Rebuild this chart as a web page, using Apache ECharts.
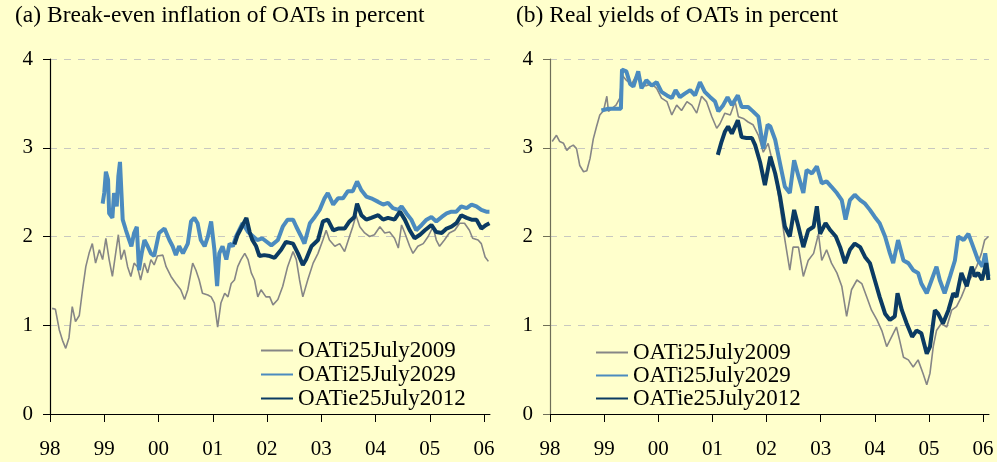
<!DOCTYPE html>
<html>
<head>
<meta charset="utf-8">
<script src="https://cdn.jsdelivr.net/npm/echarts@6/dist/echarts.min.js"></script>
<style>
  html, body { margin: 0; background: #ffffcc; }
  #chart { width: 997px; height: 462px; }
</style>
</head>
<body>
<div id="chart"></div>
<script>
// x positions are decimal years, values in percent
const yearTicks = [1998, 1999, 2000, 2001, 2002, 2003, 2004, 2005, 2006]

// (a) break-even inflation
const beiX09 = [1998.04,1998.10,1998.17,1998.23,1998.29,1998.35,1998.41,1998.47,1998.54,1998.60,1998.66,1998.72,1998.78,1998.84,1998.91,1998.97,
  1999.03,1999.09,1999.15,1999.21,1999.26,1999.31,1999.37,1999.43,1999.49,1999.55,1999.61,1999.67,1999.74,1999.80,1999.86,1999.92,1999.98,
  2000.08,2000.14,2000.23,2000.32,2000.41,2000.48,2000.54,2000.63,2000.69,2000.75,2000.81,2000.91,2000.97,
  2001.03,2001.09,2001.15,2001.22,2001.28,2001.34,2001.40,2001.46,2001.52,2001.59,2001.65,2001.71,2001.77,2001.83,2001.89,2001.98,
  2002.05,2002.11,2002.20,2002.29,2002.38,2002.48,2002.54,2002.60,2002.66,2002.75,2002.85,2002.94,
  2003.03,2003.09,2003.15,2003.25,2003.34,2003.43,2003.52,2003.58,2003.64,2003.71,2003.80,2003.89,2003.98,
  2004.08,2004.17,2004.26,2004.35,2004.42,2004.48,2004.54,2004.63,2004.69,2004.78,2004.88,2004.97,
  2005.06,2005.12,2005.18,2005.27,2005.36,2005.46,2005.55,2005.64,2005.73,2005.79,2005.89,2005.95,
  2006.02,2006.08]
const bei09 = [1.19,1.18,0.95,0.83,0.74,0.86,1.21,1.04,1.11,1.40,1.66,1.81,1.92,1.70,1.85,1.74,
  1.98,1.74,1.55,1.81,2.02,1.74,1.85,1.66,1.55,1.70,1.66,1.51,1.70,1.59,1.74,1.68,1.78,
  1.79,1.66,1.55,1.47,1.40,1.29,1.40,1.70,1.62,1.51,1.36,1.34,1.32,
  1.25,0.98,1.25,1.36,1.32,1.47,1.51,1.66,1.74,1.81,1.74,1.59,1.51,1.32,1.40,1.32,
  1.32,1.23,1.29,1.44,1.66,1.83,1.74,1.51,1.32,1.51,1.70,1.81,
  1.96,2.07,1.96,1.89,1.92,1.83,2.00,2.11,2.24,2.11,2.04,2.00,2.02,
  2.11,2.04,2.05,1.98,1.87,2.13,2.04,1.89,1.81,1.89,1.92,2.00,
  2.11,1.96,1.89,1.96,2.04,2.07,2.15,2.15,2.07,1.98,1.96,1.92,
  1.77,1.72]

const beiX29 = [1998.97,
  1999.00,1999.03,1999.07,1999.09,1999.15,1999.18,1999.23,1999.26,1999.29,1999.34,1999.40,1999.46,1999.50,1999.55,1999.60,1999.64,1999.69,1999.74,1999.80,1999.86,1999.92,
  2000.01,2000.11,2000.20,2000.26,2000.32,2000.38,2000.45,2000.54,2000.60,2000.66,2000.72,2000.78,2000.85,2000.91,2000.97,
  2001.03,2001.08,2001.12,2001.18,2001.25,2001.31,2001.37,2001.43,2001.55,2001.65,2001.82,2001.91,
  2002.08,2002.20,2002.29,2002.38,2002.48,2002.54,2002.63,2002.69,2002.79,2002.88,2002.97,
  2003.06,2003.12,2003.22,2003.31,2003.40,2003.49,2003.58,2003.66,2003.74,2003.83,2003.92,
  2004.05,2004.14,2004.23,2004.32,2004.42,2004.48,2004.57,2004.66,2004.75,2004.85,2004.94,
  2005.03,2005.12,2005.22,2005.31,2005.40,2005.49,2005.58,2005.68,2005.77,2005.86,2005.95,
  2006.04,2006.10]
const bei29 = [2.37,
  2.49,2.73,2.64,2.26,2.21,2.49,2.34,2.68,2.84,2.19,2.07,1.96,1.89,2.04,2.11,1.62,1.81,1.96,1.89,1.81,1.78,
  2.04,2.09,1.96,1.89,1.79,1.89,1.81,1.92,2.17,2.21,2.15,1.96,1.89,2.00,2.17,
  1.85,1.44,1.81,1.89,1.74,1.92,1.89,2.00,2.15,2.05,1.96,1.98,
  1.90,1.96,2.11,2.19,2.19,2.11,2.00,1.92,2.15,2.22,2.30,
  2.43,2.49,2.36,2.43,2.43,2.51,2.51,2.62,2.52,2.45,2.43,
  2.39,2.36,2.38,2.32,2.30,2.34,2.26,2.19,2.07,2.13,2.19,
  2.22,2.17,2.22,2.26,2.28,2.28,2.34,2.32,2.36,2.34,2.30,
  2.28,2.28]

const beiXe12 = [2001.40,2001.46,2001.52,2001.57,2001.62,2001.68,2001.73,2001.80,2001.86,2001.95,
  2002.05,2002.14,2002.26,2002.35,2002.48,2002.57,2002.66,2002.72,2002.82,2002.94,
  2003.03,2003.12,2003.22,2003.31,2003.43,2003.52,2003.61,2003.66,2003.74,2003.83,2003.92,
  2004.05,2004.14,2004.23,2004.35,2004.45,2004.54,2004.63,2004.72,2004.82,2004.91,
  2005.03,2005.12,2005.22,2005.31,2005.40,2005.49,2005.58,2005.68,2005.77,2005.86,2005.95,
  2006.04,2006.10]
const beie12 = [1.91,2.02,2.09,2.15,2.21,2.05,1.96,1.89,1.78,1.79,
  1.78,1.76,1.85,1.94,1.92,1.81,1.68,1.74,1.89,1.96,
  2.17,2.19,2.07,2.09,2.09,2.17,2.22,2.37,2.24,2.19,2.21,
  2.24,2.19,2.21,2.19,2.28,2.19,2.07,1.98,2.02,2.07,
  2.13,2.05,2.04,2.09,2.11,2.15,2.24,2.21,2.19,2.19,2.09,
  2.13,2.15]

// (b) real yields
const ryX09 = [1998.04,1998.12,1998.18,1998.25,1998.31,1998.37,1998.43,1998.49,1998.55,1998.62,1998.68,1998.74,1998.80,1998.86,1998.92,1998.99,
  1999.05,1999.08,1999.14,1999.22,1999.29,1999.33,1999.41,1999.51,1999.60,1999.69,1999.78,1999.88,1999.97,
  2000.06,2000.16,2000.25,2000.34,2000.43,2000.53,2000.62,2000.71,2000.80,2000.89,2000.99,
  2001.08,2001.14,2001.23,2001.33,2001.42,2001.48,2001.57,2001.66,2001.75,2001.85,2001.94,
  2002.03,2002.16,2002.25,2002.34,2002.43,2002.49,2002.59,2002.68,2002.77,2002.87,2002.96,
  2003.02,2003.11,2003.20,2003.30,2003.39,2003.48,2003.57,2003.67,2003.76,2003.85,2003.94,
  2004.04,2004.13,2004.22,2004.31,2004.40,2004.46,2004.53,2004.62,2004.71,2004.80,2004.89,2004.96,
  2005.02,2005.08,2005.14,2005.23,2005.33,2005.42,2005.51,2005.60,2005.70,2005.79,2005.88,2005.97,
  2006.03,2006.10]
const ry09 = [3.07,3.14,3.07,3.05,2.97,3.01,3.03,2.99,2.80,2.73,2.74,2.88,3.10,3.24,3.37,3.42,
  3.58,3.41,3.44,3.48,3.56,3.82,3.76,3.72,3.82,3.70,3.70,3.72,3.67,
  3.56,3.52,3.37,3.48,3.42,3.52,3.48,3.39,3.58,3.52,3.35,
  3.22,3.27,3.39,3.37,3.52,3.35,3.33,3.29,3.26,3.14,2.95,
  3.05,2.71,2.34,1.96,1.62,1.88,1.88,1.55,1.73,1.81,2.03,
  1.73,1.85,1.70,1.59,1.44,1.10,1.40,1.51,1.47,1.32,1.17,
  1.06,0.94,0.76,0.87,0.98,0.83,0.64,0.61,0.53,0.61,0.46,0.33,
  0.46,0.76,0.94,1.02,0.98,1.17,1.21,1.32,1.47,1.55,1.66,1.81,
  1.96,2.00]

const ryX29 = [1998.95,
  1999.08,1999.20,1999.31,1999.33,1999.41,1999.48,1999.54,1999.63,1999.69,1999.78,1999.88,1999.97,
  2000.06,2000.16,2000.25,2000.32,2000.40,2000.49,2000.59,2000.68,2000.77,2000.86,2000.96,
  2001.05,2001.11,2001.20,2001.28,2001.36,2001.47,2001.54,2001.66,2001.75,2001.85,2001.94,
  2002.02,2002.07,2002.16,2002.25,2002.34,2002.43,2002.51,2002.59,2002.68,2002.74,2002.84,2002.93,
  2003.02,2003.11,2003.20,2003.30,2003.39,2003.46,2003.54,2003.63,2003.73,2003.82,2003.91,
  2004.00,2004.09,2004.19,2004.28,2004.34,2004.43,2004.53,2004.62,2004.71,2004.80,2004.86,2004.96,
  2005.05,2005.14,2005.20,2005.29,2005.39,2005.48,2005.54,2005.64,2005.73,2005.82,2005.91,2005.99,
  2006.04,2006.10]
const ry29 = [3.42,
  3.44,3.44,3.44,3.88,3.86,3.72,3.69,3.86,3.67,3.76,3.70,3.74,
  3.63,3.59,3.56,3.65,3.57,3.61,3.65,3.59,3.74,3.63,3.57,
  3.52,3.41,3.48,3.57,3.48,3.59,3.46,3.46,3.41,3.35,2.99,
  3.26,3.24,3.09,2.82,2.56,2.49,2.86,2.68,2.49,2.75,2.71,2.79,
  2.60,2.62,2.56,2.49,2.41,2.19,2.41,2.47,2.41,2.37,2.30,
  2.22,2.15,2.00,1.81,1.70,1.96,1.73,1.70,1.62,1.59,1.47,1.36,
  1.51,1.66,1.51,1.36,1.55,1.73,2.00,1.96,2.03,1.88,1.73,1.66,
  1.81,1.55]

const ryXe12 = [2001.10,2001.17,2001.23,2001.29,2001.36,2001.42,2001.47,2001.54,2001.63,2001.73,2001.79,2001.88,2001.97,
  2002.07,2002.16,2002.25,2002.34,2002.43,2002.51,2002.59,2002.68,2002.77,2002.87,2002.93,2002.99,
  2003.09,2003.18,2003.28,2003.36,2003.45,2003.54,2003.63,2003.73,2003.82,2003.91,
  2004.00,2004.09,2004.19,2004.28,2004.37,2004.42,2004.50,2004.59,2004.69,2004.77,2004.86,2004.96,
  2005.02,2005.11,2005.17,2005.26,2005.36,2005.45,2005.51,2005.60,2005.70,2005.79,2005.85,2005.91,2005.98,
  2006.06,2006.10]
const rye12 = [2.92,3.07,3.18,3.24,3.16,3.24,3.31,3.12,3.11,3.11,3.03,2.84,2.58,
  2.90,2.71,2.45,2.11,2.00,2.30,2.11,1.88,2.07,2.11,2.34,2.03,
  2.15,2.07,2.00,1.88,1.70,1.85,1.92,1.88,1.77,1.70,
  1.51,1.32,1.13,1.06,1.10,1.36,1.17,1.02,0.87,0.94,0.91,0.68,
  0.76,1.17,1.13,1.02,1.17,1.36,1.32,1.59,1.44,1.66,1.55,1.59,1.51,
  1.70,1.51]

const names = ['OATi25July2009', 'OATi25July2029', 'OATie25July2012']
const colors = ['#868686', '#4b8bbf', '#0b3b63']
const widths = [1.6, 4, 4]

const font = 'Liberation Serif, Times New Roman, serif'

function pairs (xs, ys) {
  return xs.map((x, i) => [x, ys[i]])
}

function xAxis (gridIndex) {
  return {
    type: 'value',
    gridIndex: gridIndex,
    min: 1998,
    max: 2006.11,
    axisLine: { lineStyle: { color: '#000', width: 1 } },
    axisTick: { customValues: yearTicks, length: 8, lineStyle: { color: '#000' } },
    axisLabel: {
      customValues: yearTicks,
      margin: 25,
      color: '#000',
      fontFamily: font,
      fontSize: 21,
      formatter: v => String(v).slice(2)
    },
    splitLine: { show: false }
  }
}

function yAxis (gridIndex, lineColor) {
  return {
    type: 'value',
    gridIndex: gridIndex,
    min: 0,
    max: 4,
    interval: 1,
    axisLine: { show: true, lineStyle: { color: lineColor, width: 1.2 } },
    axisTick: { show: true, length: 7, lineStyle: { color: lineColor } },
    axisLabel: { margin: 17, color: '#000', fontFamily: font, fontSize: 21 },
    splitLine: { lineStyle: { color: '#c8c8c0', type: [7, 7], width: 1 } }
  }
}

function line (idx, panel, data) {
  return {
    name: names[idx],
    type: 'line',
    xAxisIndex: panel,
    yAxisIndex: panel,
    data: data,
    symbol: 'none',
    z: 2 + idx,
    lineStyle: { color: colors[idx], width: widths[idx] },
    itemStyle: { color: colors[idx] }
  }
}

function legend (left, top, gap) {
  return {
    data: names,
    orient: 'vertical',
    left: left,
    top: top,
    padding: 0,
    itemWidth: 32,
    itemHeight: 14,
    itemGap: gap,
    itemStyle: { opacity: 0 },
    textStyle: { fontFamily: font, fontSize: 23, color: '#000', padding: [0, 0, 0, 0] }
  }
}

const titleStyle = { fontFamily: font, fontSize: 23.5, fontWeight: 'normal', color: '#000' }

const chart = echarts.init(document.getElementById('chart'))
chart.setOption({
  animation: false,
  backgroundColor: '#ffffcc',
  title: [
    { text: '(a) Break-even inflation of OATs in percent', left: 15, top: 4, padding: 0, textStyle: titleStyle },
    { text: '(b) Real yields of OATs in percent', left: 516, top: 4, padding: 0, textStyle: titleStyle }
  ],
  legend: [legend(260, 339, 1), legend(595, 341, 0)],
  grid: [
    { left: 50, right: 507, top: 59, bottom: 48 },
    { left: 550, right: 8, top: 59, bottom: 48 }
  ],
  xAxis: [xAxis(0), xAxis(1)],
  yAxis: [yAxis(0, '#000'), yAxis(1, '#6e6e58')],
  series: [
    line(0, 0, pairs(beiX09, bei09)),
    line(1, 0, pairs(beiX29, bei29)),
    line(2, 0, pairs(beiXe12, beie12)),
    line(0, 1, pairs(ryX09, ry09)),
    line(1, 1, pairs(ryX29, ry29)),
    line(2, 1, pairs(ryXe12, rye12))
  ]
})
</script>
</body>
</html>
